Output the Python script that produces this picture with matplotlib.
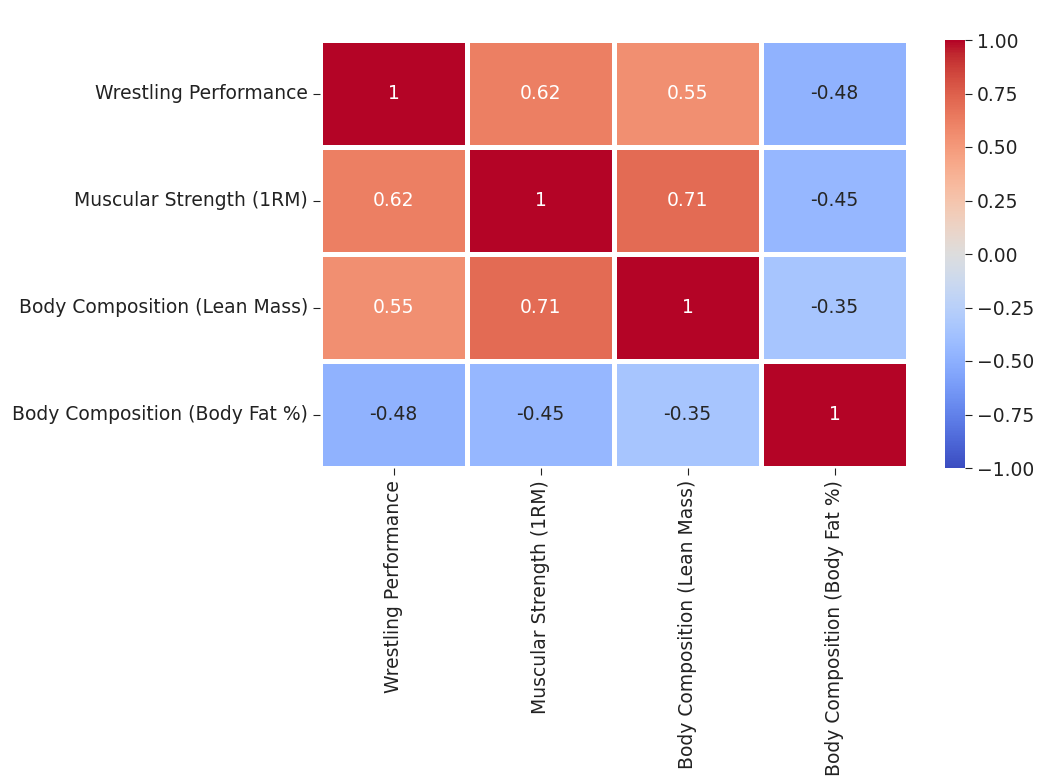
import numpy as np
import pandas as pd
import matplotlib
matplotlib.use("Agg")
import matplotlib.pyplot as plt
import seaborn as sns

labels = ["Wrestling Performance", "Muscular Strength (1RM)",
          "Body Composition (Lean Mass)", "Body Composition (Body Fat %)"]
corr_vals = [[1.00, 0.62, 0.55, -0.48],
             [0.62, 1.00, 0.71, -0.45],
             [0.55, 0.71, 1.00, -0.35],
             [-0.48, -0.45, -0.35, 1.00]]

corr = pd.DataFrame(corr_vals, index=labels, columns=labels)

fig = plt.figure(figsize=(10.37, 7.8), dpi=100)
W, H = 1037, 780
ax = fig.add_axes([320 / W, 1 - 468 / H, (908 - 320) / W, (468 - 40) / H])
cax = fig.add_axes([945 / W, 1 - 468 / H, 20 / W, (468 - 40) / H])

sns.heatmap(corr, annot=True, cmap="coolwarm", vmin=-1, vmax=1,
            linewidths=2.4, linecolor="white", ax=ax, cbar_ax=cax,
            annot_kws={"fontsize": 13.5})

ax.tick_params(axis="both", labelsize=13.5, length=5, colors="#222222")
plt.setp(ax.get_xticklabels(), rotation=90)
plt.setp(ax.get_yticklabels(), rotation=0)
cax.tick_params(labelsize=13.5, length=5, colors="#222222")

fig.savefig("out.png", dpi=100)
